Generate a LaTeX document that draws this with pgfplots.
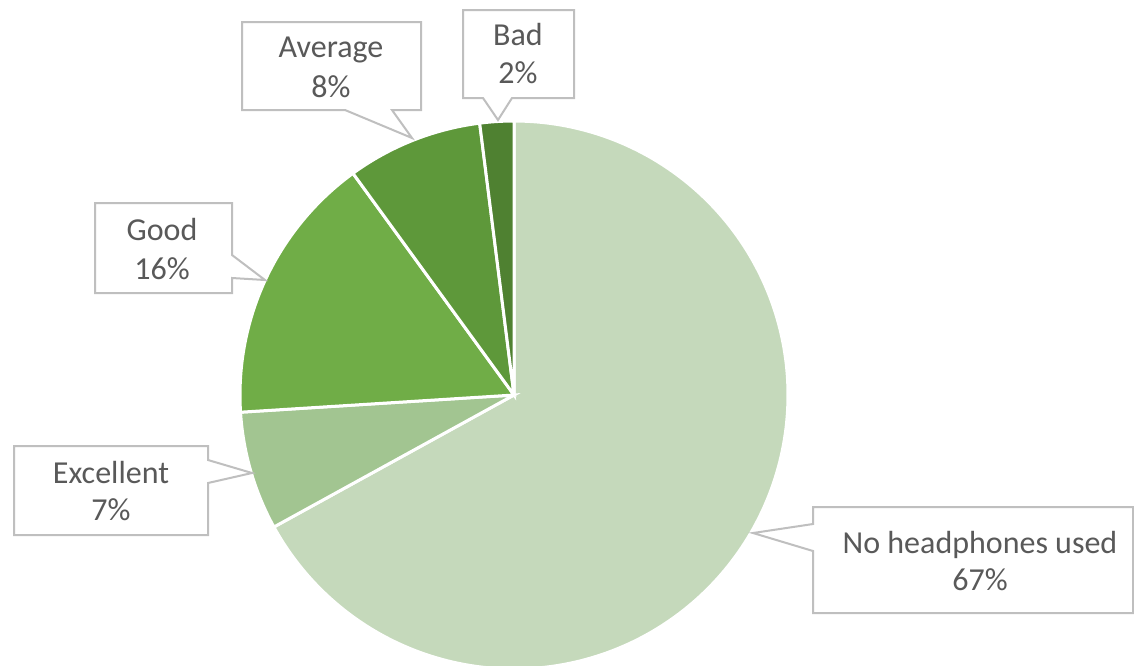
\documentclass[border=0pt]{standalone}
\usepackage{pgfplots}
\pgfplotsset{compat=1.18}
\usepackage{fontspec}
\setmainfont{Carlito}
\definecolor{cNo}{HTML}{C5D9BB}
\definecolor{cEx}{HTML}{A2C591}
\definecolor{cGo}{HTML}{70AD47}
\definecolor{cAv}{HTML}{5E983A}
\definecolor{cBa}{HTML}{4F8131}
\definecolor{cBox}{HTML}{BFBFBF}
\definecolor{cTxt}{HTML}{595959}
% shares (percent), clockwise from 12 o'clock
\def\vNo{67}\def\vEx{7}\def\vGo{16}\def\vAv{8}\def\vBa{2}
\pgfmathsetmacro\aA{90}
\pgfmathsetmacro\aB{\aA-3.6*\vNo}
\pgfmathsetmacro\aC{\aB-3.6*\vEx}
\pgfmathsetmacro\aD{\aC-3.6*\vGo}
\pgfmathsetmacro\aE{\aD-3.6*\vAv}
\pgfmathsetmacro\aF{\aE-3.6*\vBa}
\begin{document}
\begin{tikzpicture}
\begin{axis}[scale only axis, width=567pt, height=332.5pt,
  xmin=0, xmax=1134, ymin=0, ymax=665, y dir=reverse,
  hide axis, clip=true,
  slice/.style={draw=white, line width=1.5pt, samples=200}]
\addplot[slice, fill=cNo, domain=\aB:\aA] ({514+274*cos(x)},{395-274*sin(x)}) -- (axis cs:514,395) -- cycle;
\addplot[slice, fill=cEx, domain=\aC:\aB] ({514+274*cos(x)},{395-274*sin(x)}) -- (axis cs:514,395) -- cycle;
\addplot[slice, fill=cGo, domain=\aD:\aC] ({514+274*cos(x)},{395-274*sin(x)}) -- (axis cs:514,395) -- cycle;
\addplot[slice, fill=cAv, domain=\aE:\aD] ({514+274*cos(x)},{395-274*sin(x)}) -- (axis cs:514,395) -- cycle;
\addplot[slice, fill=cBa, domain=\aF:\aE] ({514+274*cos(x)},{395-274*sin(x)}) -- (axis cs:514,395) -- cycle;
% callouts
\tikzset{co/.style={draw=cBox, fill=white, line width=1pt, line join=miter},
  txt/.style={text=cTxt, anchor=base, inner sep=0pt, font=\fontsize{16}{19}\selectfont}}
\draw[co] (axis cs:813,507) -- (axis cs:1133,507) -- (axis cs:1133,613) -- (axis cs:813,613) -- (axis cs:813,551) -- (axis cs:753,533) -- (axis cs:813,524) -- cycle;
\draw[co] (axis cs:14,446) -- (axis cs:208,446) -- (axis cs:208,460) -- (axis cs:252,473) -- (axis cs:208,483) -- (axis cs:208,535) -- (axis cs:14,535) -- cycle;
\draw[co] (axis cs:95,203) -- (axis cs:232,203) -- (axis cs:232,255) -- (axis cs:265,280) -- (axis cs:232,278) -- (axis cs:232,293) -- (axis cs:95,293) -- cycle;
\draw[co] (axis cs:242,22) -- (axis cs:421,22) -- (axis cs:421,110) -- (axis cs:392,110) -- (axis cs:412,138) -- (axis cs:345,110) -- (axis cs:242,110) -- cycle;
\draw[co] (axis cs:463,10) -- (axis cs:574,10) -- (axis cs:574,98) -- (axis cs:512,98) -- (axis cs:498,120) -- (axis cs:483,98) -- (axis cs:463,98) -- cycle;
\node[txt] at (axis cs:980,553) {No headphones used};
\node[txt] at (axis cs:980,590) {67\%};
\node[txt] at (axis cs:111,483) {Excellent};
\node[txt] at (axis cs:111,520) {7\%};
\node[txt] at (axis cs:162,240) {Good};
\node[txt] at (axis cs:162,279) {16\%};
\node[txt] at (axis cs:331,57) {Average};
\node[txt] at (axis cs:331,97) {8\%};
\node[txt] at (axis cs:518,45) {Bad};
\node[txt] at (axis cs:518,83) {2\%};
\end{axis}
\pgfresetboundingbox
\path (current axis.south west) rectangle (current axis.north east);
\end{tikzpicture}
\end{document}
